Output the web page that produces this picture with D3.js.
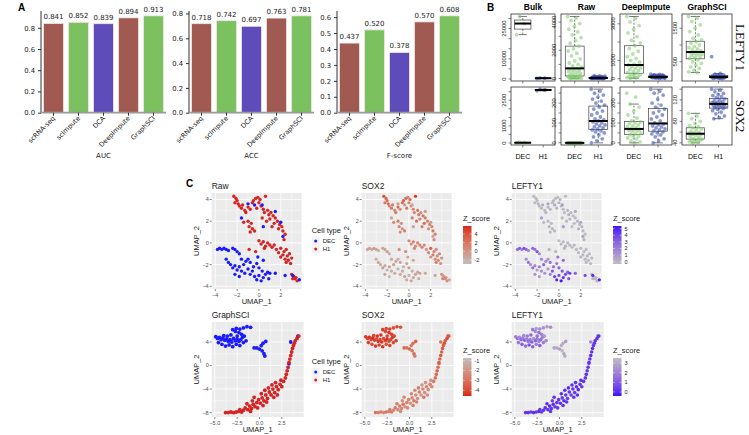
<!DOCTYPE html>
<html><head><meta charset="utf-8">
<script src="https://cdn.jsdelivr.net/npm/d3@7"></script>
<style>body{margin:0;background:#fff}svg{display:block}</style>
</head><body><svg id="c" width="749" height="435"></svg>
<script>
// ================= Panel A data =================
const methods = ["scRNA-seq","scImpute","DCA","DeepImpute","GraphSCI"];
const aucValues = [0.841,0.852,0.839,0.894,0.913];
const accValues = [0.718,0.742,0.697,0.763,0.781];
const fscoreValues = [0.437,0.520,0.378,0.570,0.608];
const aucTicks = [0,0.2,0.4,0.6,0.8];
const accTicks = [0,0.2,0.4,0.6,0.8];
const fscoreTicks = [0,0.1,0.2,0.3,0.4,0.5,0.6];
const metricNames = ["AUC","ACC","F-score"];
const methodColors = ["#a15a52","#7bc160","#5d4cba","#a15a52","#7bc160"];

// ================= Panel B data =================
const bMethods = ["Bulk","Raw","DeepImpute","GraphSCI"];
const bGenes = ["LEFTY1","SOX2"];
const bGroups = ["DEC","H1"];
// expression per method: [DEC values, H1 values]
const lefty1Bulk = [[22000,27500,31000],[250,400,550]];
const lefty1Raw = [[4400,4300,4100,3900,3700,3500,3300,3100,2900,2700,2500,2300,2100,1950,1800,1600,1400,1250,1100,1000,900,800,720,650,600,550,500,450,400,350,300,250,200,180,150,120,100,80,60,40,20,10,5,0,0],
  [0,0,0,5,10,15,20,25,30,35,40,45,50,60,70,80,90,100,110,120,140,160,180,200,0,10,20,30,40,50]];
const lefty1Deep = [[3400,3300,3100,2900,2700,2500,2300,2100,1950,1800,1650,1500,1350,1200,1100,1000,900,800,750,700,650,600,550,500,450,400,350,300,250,200,150,120,100,80,60,40,20],
  [250,230,210,190,170,150,140,130,120,110,100,95,90,85,80,75,70,60,50,40,30,20,10,180,160,120,100,90,70,60]];
const lefty1Graph = [[1850,1800,1700,1600,1500,1400,1300,1200,1150,1100,1050,1000,950,920,880,850,820,800,780,760,740,720,700,680,650,630,600,550,500,450,400,350,300,250,200,180],
  [650,150,130,110,100,90,80,70,60,50,45,40,35,30,25,20,15,10,5,0,60,40,20]];
const sox2Bulk = [[10,20,30],[3050,3100,3150]];
const sox2Raw = [[0,0,0,0,0,0,0,0,0,0,0,0,0,0,0,0,0,0,0,0,0,0,0,0,0,0,0,0,0,0],
  [270,260,250,240,230,220,210,200,190,180,170,160,150,140,130,120,115,110,105,100,95,90,85,80,75,70,65,60,55,50,40,30,20,10,0]];
const sox2Deep = [[250,230,195,180,160,140,125,110,105,100,95,90,85,80,75,70,68,65,62,60,55,50,45,40,35,30,25,20,10,5,0],
  [270,260,250,240,220,200,190,180,170,160,150,140,130,120,110,100,95,90,85,80,75,70,65,60,55,50,45,40,30,20,10,0]];
const sox2Graph = [[95,90,85,80,76,72,70,68,66,64,62,60,59,58,57,56,55,54,52,50,48,47,46,45,44,43,42,41,40],
  [140,138,135,132,130,128,126,124,122,120,118,117,116,115,114,113,112,111,110,109,108,107,106,105,104,102,100,97,94,90,87,85]];
const lefty1Ticks = [[0,5000,10000,15000,20000,25000,30000],[0,1000,2000,3000,4000],[0,1000,2000,3000],[500,1000,1500]];
const lefty1Labels = [[0,10000,25000],[0,2000,4000],[0,1000,3000],[500,1500]];
const sox2Ticks = [[0,500,1000,1500,2000,2500,3000],[0,50,100,150,200,250],[0,50,100,150,200,250],[40,60,80,100,120,140]];
const sox2Labels = [[0,1000,2500],[0,100,200],[0,100,200],[40,80,120]];

// ================= Panel C data =================
// [UMAP_1, UMAP_2, cellType(0=DEC,1=H1), Z_score SOX2, Z_score LEFTY1]
const rawCells = [
 [-2.3,4.3,1,4.5,-0.2],[-2.1,4.1,1,3.0,-0.1],[-2.0,3.9,1,2.2,-0.3],[-2.2,3.7,1,1.8,0.0],[-1.9,3.6,1,2.5,-0.2],
 [-1.8,3.4,1,1.2,-0.1],[-1.6,3.2,1,2.0,-0.3],[-1.5,3.5,1,1.5,0.1],[-1.3,3.0,1,0.9,-0.2],[-1.2,2.8,1,1.6,-0.1],
 [-1.0,3.3,1,2.4,-0.2],[-0.8,3.1,1,1.1,0.0],[-0.6,3.7,1,2.8,-0.3],[-0.5,3.9,1,3.2,-0.1],[-0.3,4.1,1,2.1,-0.2],
 [-0.1,4.2,1,1.7,-0.3],[0.1,4.0,1,2.6,-0.1],[0.0,3.7,1,1.4,0.0],[0.2,3.4,1,0.8,-0.2],[-0.2,3.2,1,1.9,-0.1],
 [0.4,3.1,1,1.3,-0.3],[0.6,4.3,1,5.5,-0.2],[0.8,3.0,1,2.3,-0.1],[0.5,2.8,1,1.0,-0.2],[0.9,2.6,1,1.8,0.1],
 [1.1,2.8,1,0.7,-0.2],[1.3,2.5,1,2.0,-0.3],[1.0,2.2,1,1.2,-0.1],[1.5,2.3,1,1.6,-0.2],[1.7,2.0,1,0.9,-0.1],
 [1.4,1.8,1,2.7,-0.3],[1.9,1.7,1,1.4,-0.2],[2.1,1.5,1,1.1,-0.1],[1.8,1.3,1,0.6,0.0],[2.2,1.1,1,1.9,-0.2],
 [2.4,0.8,1,1.3,-0.3],[2.3,0.3,1,0.8,-0.1],[0.3,2.3,1,1.5,-0.2],[0.7,2.0,1,2.2,-0.1],[1.2,1.5,1,1.0,-0.3],
 [-1.4,1.9,1,0.9,-0.2],[-1.0,2.0,1,1.7,-0.1],[-0.7,1.8,1,0.5,-0.3],[-0.9,1.5,1,1.2,-0.2],[-0.6,1.3,1,0.7,0.0],
 [-0.4,1.1,1,1.4,-0.1],[-0.8,1.0,1,0.3,-0.2],
 [-0.9,-0.6,1,0.2,-0.1],[-0.3,-0.8,1,0.6,-0.2],[0.0,0.2,1,1.1,-0.3],[0.2,-0.1,1,0.7,-0.1],[0.4,0.1,1,1.5,-0.2],
 [0.6,-0.3,1,0.4,0.0],[0.8,0.0,1,1.0,-0.2],[1.0,-0.2,1,0.8,-0.1],[1.2,-0.4,1,1.3,-0.3],[1.4,-0.2,1,0.5,-0.2],
 [0.5,-0.5,1,0.9,-0.1],[1.6,-0.6,1,0.3,-0.2],
 [2.0,-0.5,1,3.6,-0.1],[2.3,-0.8,1,1.2,-0.3],[2.5,-0.6,1,0.8,-0.2],[2.2,-1.1,1,1.6,-0.1],[2.6,-1.2,1,0.6,0.0],
 [2.8,-1.0,1,1.1,-0.2],[2.4,-1.5,1,0.4,-0.1],[2.7,-1.6,1,0.9,-0.3],[3.0,-1.4,1,0.2,-0.2],[2.9,-1.9,1,0.7,-0.1],
 [2.5,-1.8,1,1.4,-0.2],[2.0,-1.3,1,0.5,-0.1],[1.8,-0.9,1,1.0,-0.3],
 [3.0,-2.9,1,0.4,-0.2],[3.2,-3.1,1,0.9,-0.1],[3.3,-3.3,1,0.2,-0.2],[3.5,-3.5,1,0.6,0.0],[3.1,-3.3,1,1.1,-0.1],[3.4,-3.2,1,0.3,-0.2],
 [-3.8,-0.6,0,-1.2,2.5],[-3.6,-0.5,0,-0.8,3.2],[-3.4,-0.6,0,-1.5,2.0],[-3.2,-0.5,0,-0.6,3.6],[-3.0,-0.6,0,-1.0,2.8],
 [-2.8,-0.7,0,-1.8,1.9],[-2.4,-0.5,0,-0.9,3.0],[-2.2,-0.6,0,-1.3,2.4],[-2.0,-0.8,0,-0.7,3.4],[-1.8,-1.0,0,-1.6,1.6],
 [-3.0,-1.5,0,-2.0,1.2],[-2.8,-1.8,0,-1.1,2.2],[-2.6,-2.0,0,-1.7,1.4],[-2.4,-2.3,0,-0.8,2.6],[-2.2,-2.1,0,-1.4,1.8],
 [-2.0,-2.5,0,-2.2,1.0],[-1.8,-2.2,0,-1.0,2.1],[-1.6,-2.6,0,-1.6,1.5],[-1.4,-2.0,0,-0.5,2.9],[-1.2,-1.7,0,-1.2,1.7],
 [-1.0,-1.5,0,-1.9,1.1],[-0.8,-1.8,0,-0.9,2.3],[-1.3,-2.8,0,-1.5,1.3],[-1.0,-2.4,0,-2.4,0.8],[-0.8,-2.9,0,-1.1,2.0],
 [-0.6,-2.6,0,-1.7,3.3],[-0.4,-3.1,0,-0.7,4.1],[-0.2,-3.4,0,-1.3,4.8],[0.0,-3.0,0,-2.0,3.7],[0.2,-3.5,0,-1.0,5.2],
 [0.4,-3.2,0,-1.6,4.4],[0.6,-2.9,0,-0.8,3.9],[0.8,-2.7,0,-1.4,3.1],[-0.5,-2.2,0,-2.1,2.6],[-0.2,-1.9,0,-1.2,2.2],
 [0.0,-2.3,0,-0.6,3.0],[0.3,-2.6,0,-1.8,3.5],[-2.2,-2.9,0,-1.1,1.2],[-1.8,-3.1,0,-2.6,0.9],[-1.6,-1.5,0,-1.3,1.6],
 [-0.1,-1.3,0,-0.9,2.4],[0.4,-1.6,0,-1.5,2.8],[1.0,-2.8,0,-1.0,4.2],[0.9,-3.3,0,-1.9,3.4],
 [2.4,-3.0,0,-1.2,3.8],[3.1,-3.0,0,-0.7,4.6],[3.7,-3.4,0,-1.4,5.0],[1.5,-2.8,0,-1.1,3.2],
 [-1.0,3.6,0,-0.4,0.6],[-1.6,2.3,0,-0.9,0.9],[-0.4,3.5,0,-0.6,0.5],[0.3,3.5,0,-1.2,0.8],[0.4,1.5,0,-0.8,1.1],
 [1.5,2.9,0,-0.5,0.4],[2.2,0.6,0,-1.0,0.7],[2.0,1.9,0,-0.7,0.6]
];
const graphCells = [
 [-4.9,4.9,0,-4.3,2.0],[-4.7,4.6,0,-4.1,1.6],[-4.5,4.8,0,-4.4,2.3],[-4.3,4.4,0,-4.0,1.4],[-4.1,4.7,0,-4.5,1.9],
 [-3.9,4.3,0,-4.2,1.2],[-3.7,4.5,0,-3.9,2.1],[-3.5,4.1,0,-4.3,1.5],[-3.3,4.4,0,-4.1,1.8],[-3.1,4.0,0,-4.4,1.1],
 [-2.9,4.6,0,-4.0,2.4],[-2.7,4.2,0,-4.2,1.3],[-2.5,4.5,0,-4.5,1.7],[-2.3,4.1,0,-3.8,2.2],[-2.1,4.4,0,-4.1,1.5],
 [-1.9,4.8,0,-4.3,1.9],[-1.7,5.0,0,-4.0,2.5],[-2.0,5.3,0,-4.2,2.0],[-2.3,5.6,0,-4.4,1.6],[-2.7,5.8,0,-4.1,2.2],
 [-3.0,6.1,0,-4.3,1.8],[-2.6,6.3,0,-4.0,2.6],[-2.2,6.2,0,-4.2,2.1],[-1.8,6.4,0,-3.9,2.4],[-1.4,6.6,0,-4.1,2.7],
 [-1.0,6.5,0,-3.8,2.3],[-3.2,5.2,0,-4.4,1.4],[-4.6,3.9,0,-4.2,1.7],[-4.2,3.6,0,-4.0,1.2],[-3.8,3.3,0,-4.3,1.6],
 [-3.4,3.5,0,-4.1,1.0],[-3.0,3.2,0,-4.4,1.3],[-2.6,3.6,0,-3.9,1.9],[-2.2,3.4,0,-4.2,1.1],[-1.8,3.9,0,-4.0,1.8],
 [-1.5,4.2,0,-4.3,2.0],[-2.5,5.0,0,-4.1,1.5],[-3.6,5.0,0,-4.4,1.9],[-4.0,5.1,0,-4.2,2.2],
 [-0.6,3.0,0,-3.2,2.9],[-0.3,3.0,0,-3.0,3.1],[0.0,2.8,0,-3.3,2.8],[0.2,3.4,0,-2.9,3.2],[0.4,3.8,0,-3.1,3.0],
 [0.7,4.1,0,-3.4,2.7],[0.3,2.5,0,-3.0,3.3],[0.5,2.0,0,-3.2,2.9],[0.6,1.6,0,-2.8,3.1],
 [3.5,4.0,0,-3.0,2.0],[4.3,5.0,0,-3.4,1.8],[3.3,0.3,0,-3.1,1.5],
 [-3.8,-8.0,1,-3.0,0.2],[-3.5,-8.0,1,-2.6,0.1],[-3.2,-7.9,1,-2.8,0.3],[-2.9,-8.0,1,-2.4,0.0],[-2.6,-7.9,1,-2.9,0.2],
 [-2.3,-7.8,1,-2.5,0.1],[-2.0,-7.9,1,-2.7,0.4],[-1.8,-7.6,1,-2.3,0.2],[-1.6,-7.2,1,-2.8,0.1],[-1.3,-7.5,1,-2.2,0.3],
 [-1.1,-6.9,1,-2.6,0.0],[-0.9,-7.3,1,-2.4,0.2],[-0.7,-6.6,1,-2.9,0.1],[-0.5,-7.0,1,-2.1,0.3],[-0.3,-6.3,1,-2.5,0.2],
 [-1.4,-6.5,1,-2.7,0.1],[-0.8,-6.0,1,-2.3,0.4],[-0.1,-5.8,1,-2.6,0.2],[0.1,-6.4,1,-2.0,0.1],[0.3,-5.5,1,-2.4,0.3],
 [0.5,-6.0,1,-2.8,0.0],[0.7,-5.0,1,-2.2,0.2],[0.2,-4.8,1,-2.5,0.1],[0.9,-5.6,1,-2.1,0.3],[1.1,-4.5,1,-2.6,0.2],
 [0.6,-4.2,1,-2.3,0.1],[1.3,-5.0,1,-1.9,0.4],[1.5,-4.0,1,-2.4,0.2],[1.0,-3.8,1,-2.7,0.1],[1.7,-4.6,1,-2.2,0.3],
 [1.9,-3.6,1,-2.5,0.2],[1.4,-3.3,1,-2.0,0.1],[2.1,-4.1,1,-2.3,0.0],[2.3,-3.2,1,-2.6,0.2],[1.8,-2.9,1,-2.1,0.1],
 [2.5,-3.6,1,-2.4,0.3],[2.7,-2.7,1,-2.8,0.2],[2.4,-2.5,1,-2.2,0.1],[2.9,-2.1,1,-3.0,0.2],[3.0,-1.5,1,-3.2,0.1],
 [3.1,-0.9,1,-3.4,0.3],[3.2,-0.3,1,-3.1,0.2],[3.3,0.5,1,-3.5,0.1],[3.4,1.1,1,-3.3,0.2],[3.5,1.7,1,-3.6,0.0],
 [3.6,2.3,1,-3.4,0.2],[3.7,2.9,1,-3.7,0.1],[3.8,3.4,1,-3.5,0.3],[3.9,3.8,1,-3.8,0.2],[4.0,4.2,1,-3.6,0.1],
 [4.2,4.6,1,-3.9,0.2],[4.4,5.0,1,-3.7,0.1],[-0.2,-7.2,1,-2.4,0.2],[0.4,-6.8,1,-2.7,0.1],[-1.0,-7.8,1,-2.2,0.3],
 [0.8,-6.2,1,-2.5,0.2],[2.0,-5.0,1,-2.1,0.1],[-2.2,-7.5,1,-2.6,0.2],[-0.6,-5.4,1,-2.3,0.1],[1.6,-5.4,1,-2.8,0.2]
];
const rawXTicks = [-4,-2,0,2], rawYTicks = [-4,-2,0,2,4];
const graphXTicks = [-5,-2.5,0,2.5], graphYTicks = [-8,-4,0,4];
const cellTypes = ["DEC","H1"];
const cellTypeColors = ["#1b1bff","#d42424"];
const zSox2Raw = [-2.9,5.8], zLefty1Raw = [-0.35,5.4], zSox2Graph = [-4.57,-0.74], zLefty1Graph = [-0.42,3.53];
const zTicksSox2Raw = [-2,0,2,4], zTicksLefty1Raw = [0,1,2,3,4,5], zTicksSox2Graph = [-4,-3,-2,-1], zTicksLefty1Graph = [0,1,2,3];

// ================= Drawing =================
const svg = d3.select("#c");
const MPL = "'DejaVu Sans', sans-serif", RF = "'Liberation Sans', Arial, sans-serif";

// ---------- Panel A ----------
svg.append("text").attr("x",18).attr("y",11).attr("font-family",RF).attr("font-weight","bold").attr("font-size",10).text("A");
const aSets = [aucValues, accValues, fscoreValues];
const aTicks = [aucTicks, accTicks, fscoreTicks];
const aLeft = [41, 189, 337];
aSets.forEach((vals, k) => {
  const x0 = aLeft[k], w = 125, yb = 112.7, yt = 11;
  const x = d3.scaleBand().domain(methods).range([x0, x0 + w]).paddingInner(0.2).paddingOuter(0.1);
  const y = d3.scaleLinear().domain([0, d3.max(vals) * 1.05]).range([yb, yt]);
  const g = svg.append("g");
  g.selectAll("rect").data(vals).join("rect")
    .attr("x", (d, i) => x(methods[i])).attr("width", x.bandwidth())
    .attr("y", d => y(d)).attr("height", d => yb - y(d))
    .attr("fill", (d, i) => methodColors[i]).attr("stroke", "#f2e6e4").attr("stroke-width", 0.8);
  g.selectAll("text.v").data(vals).join("text").attr("class","v")
    .attr("x", (d, i) => x(methods[i]) + x.bandwidth() / 2).attr("y", d => y(d) - 4)
    .attr("text-anchor","middle").attr("font-family",MPL).attr("font-size",7).attr("fill","#222")
    .text(d => d3.format(".3f")(d));
  const ya = g.append("g").attr("transform",`translate(${x0},0)`)
    .call(d3.axisLeft(y).tickValues(aTicks[k]).tickFormat(d3.format(".1f")).tickSize(3).tickPadding(3));
  ya.select(".domain").attr("stroke","#333").attr("d",`M0,${yt}V${yb}`);
  ya.selectAll("text").attr("font-family",MPL).attr("font-size",6.8).attr("fill","#222");
  ya.selectAll("line").attr("stroke","#333");
  g.append("line").attr("x1",x0).attr("x2",x0+w).attr("y1",yb).attr("y2",yb).attr("stroke","#9a9a9a").attr("stroke-width",1.8);
  methods.forEach(m => {
    const cx = x(m) + x.bandwidth() / 2;
    g.append("line").attr("x1",cx).attr("x2",cx).attr("y1",yb).attr("y2",yb+3).attr("stroke","#333");
    g.append("text").attr("transform",`translate(${cx+2},${yb+6}) rotate(-45)`)
      .attr("text-anchor","end").attr("font-family",MPL).attr("font-size",6.6).attr("fill","#222").text(m);
  });
  g.append("text").attr("x",x0+w/2).attr("y",158).attr("text-anchor","middle")
    .attr("font-family",MPL).attr("font-size",7).attr("fill","#222").text(metricNames[k]);
});

// ---------- Panel B ----------
svg.append("text").attr("x",487).attr("y",11).attr("font-family",RF).attr("font-weight","bold").attr("font-size",10).text("B");
const bCols = [[511,44],[561,51],[620,52],[682,50]];
const bRows = [[14,67],[87,58]];
const bData = [[lefty1Bulk,lefty1Raw,lefty1Deep,lefty1Graph],[sox2Bulk,sox2Raw,sox2Deep,sox2Graph]];
const bTicks = [lefty1Ticks, sox2Ticks];
const bLabels = [lefty1Labels, sox2Labels];
const grpColor = ["rgba(125,200,105,0.55)","rgba(45,70,170,0.55)"];
bMethods.forEach((m, c) => {
  svg.append("text").attr("x", bCols[c][0] + bCols[c][1]/2).attr("y", 10).attr("text-anchor","middle")
    .attr("font-family",RF).attr("font-weight","bold").attr("font-size",8.5).text(m);
});
bGenes.forEach((gname, r) => {
  svg.append("text").attr("transform",`translate(736,${bRows[r][0]+bRows[r][1]/2}) rotate(90)`)
    .attr("text-anchor","middle").attr("font-family","'Liberation Serif', serif").attr("font-size",13).text(gname);
  bMethods.forEach((m, c) => {
    const [px, pw] = bCols[c], [py, ph] = bRows[r];
    const data = bData[r][c];
    const all = data[0].concat(data[1]);
    const lo = d3.min(all), hi = d3.max(all), pad = (hi - lo) * 0.04;
    const y = d3.scaleLinear().domain([lo - pad, hi + pad]).range([py + ph, py]);
    const x = d3.scaleLinear().domain([0.42, 2.58]).range([px, px + pw]);
    const g = svg.append("g");
    data.forEach((vals, gi) => {
      const pos = gi + 1;
      const s = vals.slice().sort(d3.ascending);
      const q1 = d3.quantile(s, 0.25), med = d3.quantile(s, 0.5), q3 = d3.quantile(s, 0.75);
      const iqr = q3 - q1;
      const wlo = d3.min(s.filter(v => v >= q1 - 1.5 * iqr)), whi = d3.max(s.filter(v => v <= q3 + 1.5 * iqr));
      const bx0 = x(pos - 0.4), bx1 = x(pos + 0.4), cx = x(pos);
      g.append("line").attr("x1",cx).attr("x2",cx).attr("y1",y(q3)).attr("y2",y(whi)).attr("stroke","#222").attr("stroke-width",0.6).attr("stroke-dasharray","2,1.5");
      g.append("line").attr("x1",cx).attr("x2",cx).attr("y1",y(q1)).attr("y2",y(wlo)).attr("stroke","#222").attr("stroke-width",0.6).attr("stroke-dasharray","2,1.5");
      g.append("line").attr("x1",x(pos-0.2)).attr("x2",x(pos+0.2)).attr("y1",y(whi)).attr("y2",y(whi)).attr("stroke","#222").attr("stroke-width",0.6);
      g.append("line").attr("x1",x(pos-0.2)).attr("x2",x(pos+0.2)).attr("y1",y(wlo)).attr("y2",y(wlo)).attr("stroke","#222").attr("stroke-width",0.6);
      g.append("rect").attr("x",bx0).attr("width",bx1-bx0).attr("y",y(q3)).attr("height",Math.max(0.5,y(q1)-y(q3)))
        .attr("fill","none").attr("stroke","#222").attr("stroke-width",0.6);
      g.selectAll(null).data(vals).join("circle")
        .attr("cx", (d, i) => x(pos + (((i * 0.618034) % 1) - 0.5) * 0.6))
        .attr("cy", d => y(d)).attr("r", 1.9).attr("fill", grpColor[gi]);
      g.append("line").attr("x1",bx0).attr("x2",bx1).attr("y1",y(med)).attr("y2",y(med)).attr("stroke","#000").attr("stroke-width",2);
    });
    g.append("rect").attr("x",px).attr("y",py).attr("width",pw).attr("height",ph).attr("fill","none").attr("stroke","#333").attr("stroke-width",0.8);
    bTicks[r][c].forEach(v => g.append("line").attr("x1",px-2.5).attr("x2",px).attr("y1",y(v)).attr("y2",y(v)).attr("stroke","#333").attr("stroke-width",0.6));
    bLabels[r][c].forEach(v => g.append("text").attr("transform",`translate(${px-5},${y(v)}) rotate(-90)`)
      .attr("text-anchor","middle").attr("font-family",RF).attr("font-size",5.8).attr("fill","#222").text(v));
    [1,2].forEach(p => g.append("line").attr("x1",x(p)).attr("x2",x(p)).attr("y1",py+ph).attr("y2",py+ph+2.5).attr("stroke","#333").attr("stroke-width",0.6));
    if (r === 1) bGroups.forEach((gn, gi) => g.append("text").attr("x",x(gi+1)).attr("y",py+ph+14).attr("text-anchor","middle")
      .attr("font-family",RF).attr("font-size",7).text(gn));
  });
});

// ---------- Panel C ----------
svg.append("text").attr("x",186).attr("y",187).attr("font-family",RF).attr("font-weight","bold").attr("font-size",10).text("C");
let gradId = 0;
function umapPanel(px, py, pw, ph, xd, yd, xt, yt, cells, colorOf, title, rad) {
  const x = d3.scaleLinear().domain(xd).range([px, px + pw]);
  const y = d3.scaleLinear().domain(yd).range([py + ph, py]);
  const g = svg.append("g");
  g.append("rect").attr("x",px).attr("y",py).attr("width",pw).attr("height",ph).attr("fill","#ebebeb");
  const xs = xt[1]-xt[0], ys = yt[1]-yt[0];
  const xm = d3.range(xt[0]-xs/2, xd[1], xs).filter(v=>v>xd[0]&&v<xd[1]);
  const ym = d3.range(yt[0]-ys/2, yd[1], ys).filter(v=>v>yd[0]&&v<yd[1]);
  xm.forEach(v=>g.append("line").attr("x1",x(v)).attr("x2",x(v)).attr("y1",py).attr("y2",py+ph).attr("stroke","#fff").attr("stroke-width",0.4));
  ym.forEach(v=>g.append("line").attr("y1",y(v)).attr("y2",y(v)).attr("x1",px).attr("x2",px+pw).attr("stroke","#fff").attr("stroke-width",0.4));
  xt.forEach(v=>g.append("line").attr("x1",x(v)).attr("x2",x(v)).attr("y1",py).attr("y2",py+ph).attr("stroke","#fff").attr("stroke-width",0.8));
  yt.forEach(v=>g.append("line").attr("y1",y(v)).attr("y2",y(v)).attr("x1",px).attr("x2",px+pw).attr("stroke","#fff").attr("stroke-width",0.8));
  g.selectAll(null).data(cells).join("circle").attr("cx",d=>x(d[0])).attr("cy",d=>y(d[1])).attr("r",rad).attr("fill",colorOf);
  const fmt = xs % 1 === 0 ? d3.format("d") : d3.format(".1f");
  xt.forEach(v=>{
    g.append("line").attr("x1",x(v)).attr("x2",x(v)).attr("y1",py+ph).attr("y2",py+ph+2).attr("stroke","#333").attr("stroke-width",0.6);
    g.append("text").attr("x",x(v)).attr("y",py+ph+7.5).attr("text-anchor","middle").attr("font-family",RF).attr("font-size",5.5).attr("fill","#4d4d4d").text(fmt(v));
  });
  yt.forEach(v=>{
    g.append("line").attr("x1",px-2).attr("x2",px).attr("y1",y(v)).attr("y2",y(v)).attr("stroke","#333").attr("stroke-width",0.6);
    g.append("text").attr("x",px-3).attr("y",y(v)).attr("dy","0.35em").attr("text-anchor","end").attr("font-family",RF).attr("font-size",5.5).attr("fill","#4d4d4d").text(d3.format("d")(v));
  });
  g.append("text").attr("x",px+pw/2).attr("y",py+ph+14.5).attr("text-anchor","middle").attr("font-family",RF).attr("font-size",7.5).attr("fill","#222").text("UMAP_1");
  g.append("text").attr("transform",`translate(${px-13},${py+ph/2}) rotate(-90)`).attr("text-anchor","middle").attr("font-family",RF).attr("font-size",7.5).attr("fill","#222").text("UMAP_2");
  g.append("text").attr("x",px).attr("y",py-4).attr("font-family",RF).attr("font-size",8.5).attr("fill","#222").text(title);
}
function cellLegend(lx, ly) {
  const g = svg.append("g");
  g.append("text").attr("x",lx).attr("y",ly).attr("font-family",RF).attr("font-size",7.5).attr("fill","#222").text("Cell type");
  cellTypes.forEach((t,i)=>{
    g.append("rect").attr("x",lx).attr("y",ly+4+i*8).attr("width",8).attr("height",8).attr("fill","#f2f2f2");
    g.append("circle").attr("cx",lx+4).attr("cy",ly+8+i*8).attr("r",1.5).attr("fill",cellTypeColors[i]);
    g.append("text").attr("x",lx+11).attr("y",ly+8+i*8).attr("dy","0.35em").attr("font-family",RF).attr("font-size",6).attr("fill","#222").text(t);
  });
}
function colorbar(lx, ly, dom, ticks, lowC, highC) {
  const g = svg.append("g");
  const id = "gr" + (gradId++);
  const grad = svg.append("defs").append("linearGradient").attr("id",id).attr("x1",0).attr("x2",0).attr("y1",1).attr("y2",0);
  d3.range(0,1.01,0.1).forEach(t=>grad.append("stop").attr("offset",t).attr("stop-color",d3.interpolateLab(lowC,highC)(t)));
  g.append("text").attr("x",lx).attr("y",ly).attr("font-family",RF).attr("font-size",7.5).attr("fill","#222").text("Z_score");
  const by = ly + 5, bh = 38, bw = 8.5;
  const s = d3.scaleLinear().domain(dom).range([by+bh, by]);
  g.append("rect").attr("x",lx).attr("y",by).attr("width",bw).attr("height",bh).attr("fill",`url(#${id})`);
  ticks.forEach(v=>{
    g.append("line").attr("x1",lx).attr("x2",lx+1.7).attr("y1",s(v)).attr("y2",s(v)).attr("stroke","#fff").attr("stroke-width",0.5);
    g.append("line").attr("x1",lx+bw-1.7).attr("x2",lx+bw).attr("y1",s(v)).attr("y2",s(v)).attr("stroke","#fff").attr("stroke-width",0.5);
    g.append("text").attr("x",lx+bw+3).attr("y",s(v)).attr("dy","0.35em").attr("font-family",RF).attr("font-size",5.5).attr("fill","#222").text(v);
  });
}
const GRAY = "#bebebe", RED = "#d9261c", BLUE = "#3a10f5";
const colSox2Raw = d3.scaleLinear().domain(zSox2Raw).range([GRAY,RED]).interpolate(d3.interpolateLab);
const colLeftyRaw = d3.scaleLinear().domain(zLefty1Raw).range([GRAY,BLUE]).interpolate(d3.interpolateLab);
const colSox2Graph = d3.scaleLinear().domain(zSox2Graph).range([RED,GRAY]).interpolate(d3.interpolateLab);
const colLeftyGraph = d3.scaleLinear().domain(zLefty1Graph).range([BLUE,GRAY]).interpolate(d3.interpolateLab);

const r1 = {py:193, ph:96, xd:[-4.33,3.92], yd:[-4.25,4.6]};
const r2 = {py:322, ph:95, xd:[-5.35,4.95], yd:[-8.75,7.4]};
const cLeft = [211.7, 361.7, 511.7];
umapPanel(cLeft[0], r1.py, 90, r1.ph, r1.xd, r1.yd, rawXTicks, rawYTicks, rawCells, d=>cellTypeColors[d[2]], "Raw", 1.7);
umapPanel(cLeft[1], r1.py, 90, r1.ph, r1.xd, r1.yd, rawXTicks, rawYTicks, rawCells, d=>colSox2Raw(d[3]), "SOX2", 1.6);
umapPanel(cLeft[2], r1.py, 90, r1.ph, r1.xd, r1.yd, rawXTicks, rawYTicks, rawCells, d=>colLeftyRaw(d[4]), "LEFTY1", 1.6);
cellLegend(311.7, 233);
colorbar(463, 221, zSox2Raw, zTicksSox2Raw, GRAY, RED);
colorbar(613, 221, zLefty1Raw, zTicksLefty1Raw, GRAY, BLUE);
umapPanel(cLeft[0], r2.py, 92, r2.ph, r2.xd, r2.yd, graphXTicks, graphYTicks, graphCells, d=>cellTypeColors[d[2]], "GraphSCI", 1.9);
umapPanel(cLeft[1], r2.py, 92, r2.ph, r2.xd, r2.yd, graphXTicks, graphYTicks, graphCells, d=>colSox2Graph(d[3]), "SOX2", 1.8);
umapPanel(cLeft[2], r2.py, 92, r2.ph, r2.xd, r2.yd, graphXTicks, graphYTicks, graphCells, d=>colLeftyGraph(d[4]), "LEFTY1", 1.8);
cellLegend(311.7, 364);
colorbar(463, 353, zSox2Graph, zTicksSox2Graph, RED, GRAY);
colorbar(613, 353, zLefty1Graph, zTicksLefty1Graph, BLUE, GRAY);
</script></body></html>
